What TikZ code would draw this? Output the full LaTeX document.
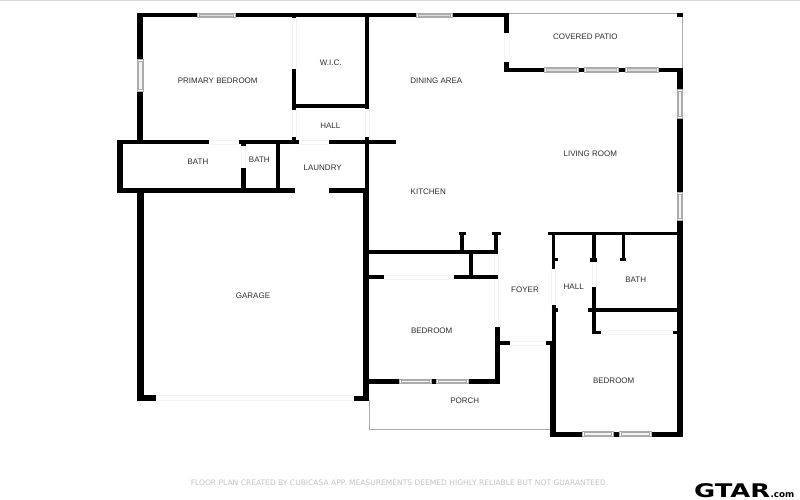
\documentclass[tikz,border=0pt]{standalone}
\usepackage{fontspec}
\usepackage{graphicx}
\setmainfont{Liberation Sans}
\newfontfamily\footfont{DejaVu Sans}
\newfontfamily\logofont{DejaVu Sans}
\definecolor{faint}{HTML}{F3F3F3}
\definecolor{topline}{HTML}{D9D9D9}
\definecolor{glass}{HTML}{DDDDDD}
\definecolor{paleglass}{HTML}{F4F4F4}
\definecolor{frame}{HTML}{ABABAB}
\definecolor{thinline}{HTML}{ABABAB}
\definecolor{labelcol}{HTML}{2E2E2E}
\definecolor{footcol}{HTML}{C4C4C4}
\tikzset{
  room/.style={font=\fontsize{8}{9}\selectfont, text=labelcol, inner sep=0pt},
  footer/.style={font=\footfont\fontsize{7.55}{9}\selectfont, text=footcol, inner sep=0pt},
  wallfill/.style={fill=black, draw=none},
  glasspane/.style={fill=glass, draw=frame, line width=0.5pt},
  palepane/.style={fill=paleglass, draw=frame, line width=0.5pt},
  framepane/.style={fill=white, draw=frame, line width=0.5pt},
  doorline/.style={draw=faint, line width=0.7pt},
  outline/.style={draw=thinline, line width=0.7pt},
}
% wall: x1 y1 x2 y2
\newcommand{\wl}[4]{\fill[wallfill] (#1,#2) rectangle (#3,#4);}
% windows: x1 y1 x2 y2
\newcommand{\winh}[4]{\path[framepane] (#1,#2) rectangle (#3,#4);
  \path[glasspane] (#1+2,#2+0.8) rectangle (#3-2,#4-0.8);}
\newcommand{\winp}[4]{\path[framepane] (#1,#2) rectangle (#3,#4);
  \path[palepane] (#1+2,#2+1) rectangle (#3-2,#4-1);}
\newcommand{\winv}[4]{\path[framepane] (#1,#2) rectangle (#3,#4);
  \path[palepane] (#1+1,#2+2) rectangle (#3-1,#4-2);}
% opening: two faint parallel lines
\newcommand{\doorh}[4]{\draw[doorline] (#1,#2) -- (#3,#2) (#1,#4) -- (#3,#4);}
\newcommand{\doorv}[4]{\draw[doorline] (#1,#2) -- (#1,#4) (#3,#2) -- (#3,#4);}
\begin{document}
\begin{tikzpicture}[x=1pt,y=-1pt]
\useasboundingbox (0,0) rectangle (800,500);
\fill[white] (0,0) rectangle (800,500);
\fill[topline] (0,0) rectangle (800,0.8);

% thin outlines: patio and porch
\draw[outline] (509,13.4) -- (682.4,13.4) -- (682.4,68);
\draw[outline] (369,400) -- (369,429.4) -- (551,429.4);

% faint door openings
\doorv{292}{18}{296}{69}
\doorv{292}{110}{296}{137}
\doorv{365.3}{110}{369.3}{137}
\doorh{299}{140}{329}{144}
\doorh{209}{140}{239}{144}
\doorv{241.5}{145}{245.5}{168}
\doorv{504}{33}{509}{62}
\doorh{156}{395.5}{354}{400.5}
\doorh{384}{275}{454}{279}
\doorv{494.5}{254}{498.5}{275}
\doorv{494.5}{279}{498.5}{327}
\doorh{510}{341.5}{546}{345.5}
\doorv{551.5}{269}{555.5}{305}
\doorv{592}{262}{596}{287}
\doorh{601}{330.8}{673}{334}

% upper outer walls
\wl{137.4}{13}{197}{17.5}
\wl{235}{13}{416}{17.5}
\wl{452}{13}{509.3}{17.5}
\wl{504}{13}{509.3}{33}
\wl{504}{62}{509.3}{72.3}
\wl{504}{67.7}{544}{72.3}
\wl{578}{67.7}{584}{72.3}
\wl{618}{67.7}{625}{72.3}
\wl{658}{67.7}{682.7}{72.3}
\wl{677}{13}{682.7}{17}
\wl{677}{67.7}{682.7}{89}
\wl{677}{118}{682.7}{192}
\wl{677}{220}{682.7}{436.7}
\wl{137.4}{13}{143.3}{59}
\wl{137.4}{91}{143.3}{141}

% bath block
\wl{117.3}{139.5}{209}{144}
\wl{239.3}{140}{298.7}{144}
\wl{329.3}{140}{395.5}{144}
\wl{117.3}{139.5}{122.7}{192.7}
\wl{117.3}{188.3}{295}{192.7}
\wl{328.7}{188.3}{369.3}{192.7}
\wl{241.4}{144}{245.6}{145.5}
\wl{241.4}{168}{245.6}{190}
\wl{276}{142}{280}{190}

% primary bedroom / WIC / hall
\wl{292}{17}{296}{18.5}
\wl{292}{69.3}{296}{110}
\wl{292}{104.3}{369}{107.7}
\wl{365.3}{17}{369.3}{109.3}
\wl{292}{136.7}{296}{141}
\wl{365.3}{137}{369.3}{192}

% garage
\wl{137.4}{192}{143.6}{400.7}
\wl{137.4}{395.3}{155.8}{400.7}
\wl{354}{395.8}{369.3}{400.7}
\wl{363.4}{192}{369.3}{400.7}

% centre block
\wl{369}{250}{498.3}{254}
\wl{460}{232}{464}{252}
\wl{459.3}{232.3}{465.7}{235}
\wl{494.2}{232}{498.3}{254}
\wl{492}{232.3}{500.7}{235}
\wl{469.3}{254}{472.8}{276}
\wl{369}{275}{384.3}{279}
\wl{454.3}{275}{498.3}{279}
\wl{494.6}{327}{499.7}{383.7}
\wl{494.6}{341.3}{510}{345.3}
\wl{545.7}{341.3}{553}{345.3}
\wl{369}{379}{398.7}{383.7}
\wl{431}{379}{436}{383.7}
\wl{468.3}{379}{499.7}{383.7}

% right block
\wl{551.5}{233}{555.3}{269}
\wl{555}{258}{558.3}{261}
\wl{551.5}{305}{555.7}{345}
\wl{555}{308.3}{558}{311.7}
\wl{550.2}{342}{555.7}{436.7}
\wl{548}{232}{677.7}{235.3}
\wl{592}{235}{596}{261}
\wl{590}{258}{597.3}{262}
\wl{621.7}{235}{625}{260}
\wl{620}{258}{625.7}{261}
\wl{592}{286.7}{596}{334}
\wl{588.3}{308.3}{678}{311.7}
\wl{592}{330.7}{600.8}{334}
\wl{673}{330.7}{678}{334}
\wl{550.2}{431.5}{581.7}{436.7}
\wl{613.3}{431.5}{619}{436.7}
\wl{651}{431.5}{682.7}{436.7}

% windows
\winh{197}{13}{235}{17.5}
\winh{416}{13}{452}{17.5}
\winh{544}{67.7}{578}{72.3}
\winh{584}{67.7}{618}{72.3}
\winh{625}{67.7}{658}{72.3}
\winp{399}{379}{431}{383.7}
\winp{436}{379}{468.3}{383.7}
\winp{582}{431.5}{613.3}{436.7}
\winp{619}{431.5}{651}{436.7}
\winv{137.6}{59}{143.1}{91}
\winv{677.2}{89}{682.7}{118}
\winv{677.2}{192}{682.7}{220}

% room labels
\node[room] (primary) at (217.7,80.3) {PRIMARY BEDROOM};
\node[room] (wic) at (330.7,62.3) {W.I.C.};
\node[room] (hallA) at (330.3,125.3) {HALL};
\node[room] (bathA) at (198,161.3) {BATH};
\node[room] (bathB) at (259.3,159.3) {BATH};
\node[room] (laundry) at (322.7,167.3) {LAUNDRY};
\node[room] (dining) at (436.3,80.3) {DINING AREA};
\node[room] (patio) at (585.3,36.7) {COVERED PATIO};
\node[room] (living) at (590.3,153.7) {LIVING ROOM};
\node[room] (kitchen) at (428.3,191.3) {KITCHEN};
\node[room] (garage) at (253,296) {GARAGE};
\node[room] (foyer) at (525,289.3) {FOYER};
\node[room] (hallB) at (573.7,286.7) {HALL};
\node[room] (bathC) at (635.7,280) {BATH};
\node[room] (bedA) at (431.7,330.3) {BEDROOM};
\node[room] (bedB) at (613.7,380.7) {BEDROOM};
\node[room] (porch) at (464.7,400.7) {PORCH};

% footer
\node[footer] (note) at (399.5,482.5) {FLOOR PLAN CREATED BY CUBICASA APP. MEASUREMENTS DEEMED HIGHLY RELIABLE BUT NOT GUARANTEED.};
\node[anchor=base west, inner sep=0pt] (logo) at (694,497.6) {\logofont\bfseries\fontsize{18.8}{20}\selectfont\scalebox{1.37}[1]{GTAR}};
\node[anchor=base west, inner sep=0pt] (logocom) at (logo.base east) {\logofont\bfseries\fontsize{8.8}{10}\selectfont .com};
\end{tikzpicture}
\end{document}
